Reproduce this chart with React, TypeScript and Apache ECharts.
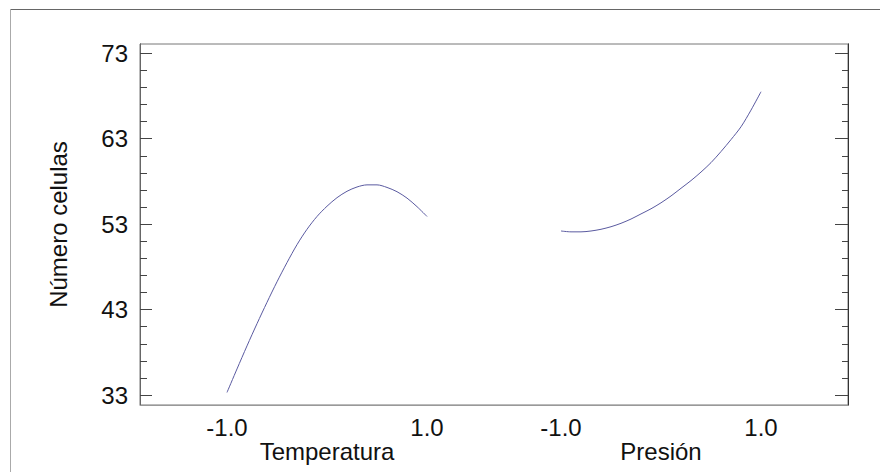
import React, { useEffect, useRef } from "react";
import * as echarts from "echarts";

// Factor levels (coded units) at which the curves were read
const factorLevels = [
  -1.0, -0.9, -0.8, -0.7, -0.6, -0.5, -0.4, -0.3, -0.2, -0.1, 0.0,
  0.1, 0.2, 0.3, 0.4, 0.5, 0.6, 0.7, 0.8, 0.9, 1.0,
];
// Main effect of Temperatura on Número celulas
const temperaturaValues = [
  33.3, 36.05, 38.75, 41.35, 43.85, 46.25, 48.5, 50.6, 52.4, 53.9, 55.1,
  56.1, 56.85, 57.35, 57.6, 57.6, 57.3, 56.8, 56.05, 55.05, 53.9,
];
// Main effect of Presión on Número celulas
const presionValues = [
  52.2, 52.1, 52.1, 52.2, 52.4, 52.7, 53.1, 53.6, 54.2, 54.8, 55.5,
  56.3, 57.2, 58.1, 59.1, 60.2, 61.5, 62.9, 64.4, 66.35, 68.5,
];

const factorNames = ["Temperatura", "Presión"];
const levelTicks = [-1.0, 1.0];
const yMajorTicks = [33, 43, 53, 63, 73];
const yMinorTicks = [35, 37, 39, 41, 45, 47, 49, 51, 55, 57, 59, 61, 65, 67, 69, 71];
const yAxisTitle = "Número celulas";

export default function App() {
  const ref = useRef<HTMLDivElement>(null);

  useEffect(() => {
    if (!ref.current) return;
    const chart = echarts.init(ref.current, undefined, { renderer: "svg" });

    const offsets = [0, 3.34]; // horizontal placement of each factor panel
    const seriesValues = [temperaturaValues, presionValues];
    const tickPositions: number[] = [];
    const tickText: Record<string, string> = {};
    offsets.forEach((off) => {
      levelTicks.forEach((lv) => {
        const p = +(lv + off).toFixed(4);
        tickPositions.push(p);
        tickText[String(p)] = lv.toFixed(1);
      });
    });
    const nameText: Record<string, string> = {};
    const namePositions = offsets.map((off, i) => {
      const p = +(off).toFixed(4);
      nameText[String(p)] = factorNames[i];
      return p;
    });

    const font = { fontFamily: "Liberation Sans, Arial, sans-serif", fontSize: 24, color: "#111" };
    const yMin = 31.83;
    const yMax = 74.09;

    const yAxisBase = (position: "left" | "right", values: number[], len: number, showLabel: boolean, lineColor: string) => ({
      type: "value",
      position,
      min: yMin,
      max: yMax,
      splitLine: { show: false },
      axisLine: { show: true, onZero: false, lineStyle: { color: lineColor, width: 1 } },
      axisTick: {
        show: true,
        inside: true,
        length: len,
        customValues: values,
        lineStyle: { color: "#444", width: 1 },
      },
      axisLabel: showLabel
        ? { show: true, customValues: values, margin: 12, ...font }
        : { show: false },
    });

    chart.setOption({
      animation: false,
      backgroundColor: "#fff",
      grid: {
        left: 140,
        top: 44,
        width: 708,
        height: 361,
        show: true,
        borderColor: "#777",
        borderWidth: 1,
        backgroundColor: "transparent",
      },
      graphic: [
        { type: "line", shape: { x1: 10, y1: 9.5, x2: 880, y2: 9.5 }, style: { stroke: "#666", lineWidth: 1 } },
        { type: "line", shape: { x1: 10.5, y1: 9, x2: 10.5, y2: 472 }, style: { stroke: "#aaa", lineWidth: 1 } },
      ],
      xAxis: [
        {
          type: "value",
          position: "bottom",
          min: -1.87,
          max: 5.21,
          splitLine: { show: false },
          axisLine: { show: true, onZero: false, lineStyle: { color: "#999" } },
          axisTick: { show: false },
          axisLabel: {
            show: true,
            customValues: tickPositions,
            margin: 10,
            formatter: (v: number) => tickText[String(+v.toFixed(4))] ?? "",
            ...font,
          },
        },
        {
          type: "value",
          position: "bottom",
          min: -1.87,
          max: 5.21,
          splitLine: { show: false },
          axisLine: { show: false, onZero: false },
          axisTick: { show: false },
          axisLabel: {
            show: true,
            customValues: namePositions,
            margin: 34,
            formatter: (v: number) => nameText[String(+v.toFixed(4))] ?? "",
            ...font,
          },
        },
      ],
      yAxis: [
        {
          ...yAxisBase("left", yMajorTicks, 12, true, "#666"),
          name: yAxisTitle,
          nameLocation: "middle",
          nameGap: 70,
          nameTextStyle: { ...font },
        },
        yAxisBase("left", yMinorTicks, 7, false, "#666"),
        yAxisBase("right", yMajorTicks, 13, false, "#333"),
        yAxisBase("right", yMinorTicks, 6, false, "#333"),
      ],
      series: seriesValues.map((vals, i) => ({
        type: "line",
        name: factorNames[i],
        xAxisIndex: 0,
        yAxisIndex: 0,
        smooth: 0.3,
        showSymbol: false,
        symbol: "none",
        lineStyle: { color: "#5a5aa0", width: 1 },
        data: factorLevels.map((lv, j) => [lv + offsets[i], vals[j]]),
      })),
    });

    return () => chart.dispose();
  }, []);

  return (
    <div
      ref={ref}
      style={{ position: "fixed", left: 0, top: 0, width: 880, height: 472, background: "#fff" }}
    />
  );
}
